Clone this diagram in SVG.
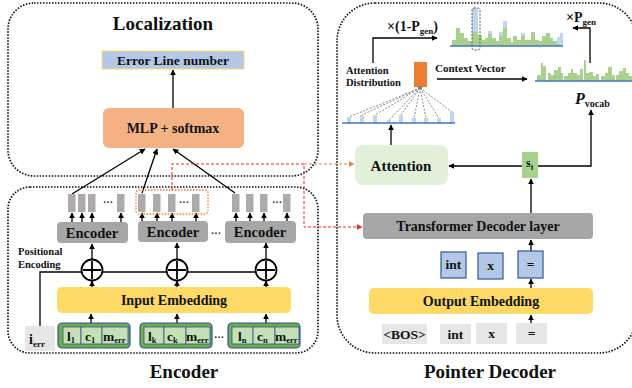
<svg xmlns="http://www.w3.org/2000/svg" width="632" height="388" viewBox="0 0 632 388">
<defs>
<marker id="ah" viewBox="0 0 10 10" refX="9" refY="5" markerWidth="6" markerHeight="6" markerUnits="userSpaceOnUse" orient="auto"><path d="M0,0 L10,5 L0,10 z" fill="#000"/></marker>
<marker id="ahr" viewBox="0 0 10 10" refX="9" refY="5" markerWidth="6" markerHeight="6" markerUnits="userSpaceOnUse" orient="auto"><path d="M0,0 L10,5 L0,10 z" fill="#ff2020"/></marker>
<marker id="aho" viewBox="0 0 10 10" refX="9" refY="5" markerWidth="6" markerHeight="6" markerUnits="userSpaceOnUse" orient="auto"><path d="M0,0 L10,5 L0,10 z" fill="#ed7d31"/></marker>
<style>
text{font-family:"Liberation Serif","Times New Roman",serif;font-weight:bold;fill:#111}
.frame{fill:none;stroke:#111;stroke-width:1.7;stroke-dasharray:1.5 1.5}
.ln{stroke:#000;stroke-width:1.3;fill:none}
.arr{stroke:#000;stroke-width:1.3;fill:none;marker-end:url(#ah)}
.gbox{fill:#a6a6a6}
.ybox{fill:#ffd966}
.bar{fill:#aeaaaa}
.outer{fill:#70ad47;stroke:#2f5597;stroke-width:1.2}
.cell{fill:#c5e0b4;stroke:#2f5597;stroke-width:0.8}
.tok{fill:#b4c7e7;stroke:#2f5597;stroke-width:1.2}
.gtok{fill:#e7e6e6}
.g{fill:#a9d18e}
.b{fill:#bdd7ee}
.base{stroke:#4472c4;stroke-width:1.3}
.dl{stroke:#7f7f7f;stroke-width:0.9;stroke-dasharray:2 1.5}
</style>
</defs>

<!-- frames -->
<g id="localization-frame">
<rect class="frame" x="8" y="3" width="310" height="173" rx="26"/>
<text x="163" y="30" font-size="19" text-anchor="middle">Localization</text>
</g>
<g id="encoder-frame">
<rect class="frame" x="8" y="187" width="310" height="166" rx="22"/>
<text x="184" y="378" font-size="19" text-anchor="middle">Encoder</text>
</g>
<g id="decoder-frame">
<rect class="frame" x="337" y="3" width="300" height="350" rx="38"/>
<text x="490" y="378" font-size="19" text-anchor="middle">Pointer Decoder</text>
</g>

<!-- connectors -->
<g id="connectors">
<line class="arr" x1="173" y1="108" x2="173" y2="70"/>
<line class="arr" x1="72" y1="194" x2="145" y2="149"/>
<line class="arr" x1="142" y1="193" x2="157" y2="149"/>
<line class="arr" x1="235" y1="193" x2="173" y2="149"/>
<!-- encoder bar arrows -->
<g>
<line class="arr" x1="72" y1="222" x2="72" y2="213"/><line class="arr" x1="82" y1="222" x2="82" y2="213"/><line class="arr" x1="92" y1="222" x2="92" y2="213"/><line class="arr" x1="121" y1="222" x2="121" y2="213"/>
<line class="arr" x1="142" y1="221" x2="142" y2="213"/><line class="arr" x1="157" y1="221" x2="157" y2="213"/><line class="arr" x1="172" y1="221" x2="172" y2="213"/><line class="arr" x1="196" y1="221" x2="196" y2="213"/>
<line class="arr" x1="236" y1="221" x2="236" y2="213"/><line class="arr" x1="250" y1="221" x2="250" y2="213"/><line class="arr" x1="264" y1="221" x2="264" y2="213"/><line class="arr" x1="287" y1="221" x2="287" y2="213"/>
</g>
<line class="arr" x1="92" y1="259" x2="92" y2="244"/>
<line class="arr" x1="177" y1="259" x2="177" y2="243"/>
<line class="arr" x1="266" y1="259" x2="266" y2="243"/>
<polyline class="ln" points="40,326 40,272 266,272"/>
<line class="arr" x1="92" y1="287" x2="92" y2="281"/>
<line class="arr" x1="177" y1="287" x2="177" y2="281"/>
<line class="arr" x1="266" y1="287" x2="266" y2="281"/>
<line class="arr" x1="91" y1="323" x2="91" y2="314"/>
<line class="arr" x1="177" y1="323" x2="177" y2="314"/>
<line class="arr" x1="266" y1="323" x2="266" y2="314"/>
<!-- red / orange dashed -->
<polyline points="172,190 172,164 304,164 304,227 362,227" fill="none" stroke="#ff2020" stroke-width="1" stroke-dasharray="3 2" marker-end="url(#ahr)"/>
<line x1="304" y1="164" x2="354" y2="164" stroke="#ed7d31" stroke-width="1" stroke-dasharray="3 2" marker-end="url(#aho)"/>
<!-- decoder -->
<line class="arr" x1="531" y1="323" x2="531" y2="315"/>
<line class="arr" x1="531" y1="288" x2="531" y2="279"/>
<line class="arr" x1="531" y1="251" x2="531" y2="240"/>
<line class="arr" x1="531" y1="213" x2="531" y2="179"/>
<line class="arr" x1="522" y1="166" x2="449" y2="166"/>
<polyline class="arr" points="538,166 591,166 591,110"/>
<line class="arr" x1="391" y1="145" x2="391" y2="125"/>
<polyline class="arr" points="373,63 373,38 437,38"/>
<line class="arr" x1="437" y1="79" x2="527" y2="79"/>
<polyline class="arr" points="590,63 590,28 573,28"/>
</g>

<!-- localization nodes -->
<g id="error-line">
<rect x="102" y="51" width="142" height="18" fill="#b4c7e7" stroke="#ffd966" stroke-width="1"/>
<text x="173" y="65" font-size="13.5" text-anchor="middle">Error Line number</text>
</g>
<g id="mlp">
<rect x="103" y="108" width="141" height="40" rx="6" fill="#f4b183"/>
<text x="173" y="133" font-size="14" text-anchor="middle">MLP + softmax</text>
</g>

<!-- encoder outputs -->
<g id="enc-out-1">
<rect class="bar" x="68" y="194" width="7.5" height="18"/><rect class="bar" x="78" y="194" width="7.5" height="18"/><rect class="bar" x="88" y="194" width="7.5" height="18"/>
<text x="108" y="206" font-size="10" text-anchor="middle">···</text>
<rect class="bar" x="117" y="194" width="7.5" height="18"/>
</g>
<g id="enc-out-2">
<rect x="136" y="190" width="72" height="24" rx="3" fill="none" stroke="#ed7d31" stroke-width="1.3" stroke-dasharray="1.5 1.5"/>
<rect class="bar" x="138" y="194" width="7.5" height="18"/><rect class="bar" x="153" y="194" width="7.5" height="18"/><rect class="bar" x="168" y="194" width="7.5" height="18"/>
<text x="184" y="206" font-size="10" text-anchor="middle">···</text>
<rect class="bar" x="192" y="194" width="7.5" height="18"/>
</g>
<g id="enc-out-3">
<rect class="bar" x="232" y="194" width="7.5" height="18"/><rect class="bar" x="246" y="194" width="7.5" height="18"/><rect class="bar" x="260" y="194" width="7.5" height="18"/>
<text x="277" y="206" font-size="10" text-anchor="middle">···</text>
<rect class="bar" x="283" y="194" width="7.5" height="18"/>
</g>

<g id="encoder-1"><rect class="gbox" x="57" y="222" width="71" height="21" rx="4"/><text x="92" y="238" font-size="14.5" text-anchor="middle">Encoder</text></g>
<g id="encoder-2"><rect class="gbox" x="138" y="221" width="70" height="21" rx="4"/><text x="173" y="237" font-size="14.5" text-anchor="middle">Encoder</text></g>
<text x="216" y="237" font-size="10" text-anchor="middle">···</text>
<g id="encoder-3"><rect class="gbox" x="225" y="221" width="71" height="22" rx="4"/><text x="260" y="237" font-size="14.5" text-anchor="middle">Encoder</text></g>

<g id="pos-enc"><text x="18" y="255" font-size="10.5">Positional</text><text x="18" y="268" font-size="10.5">Encoding</text></g>

<g id="plus-1"><circle cx="92" cy="270" r="10.5" fill="#fff" stroke="#000" stroke-width="1.8"/><path d="M83,270 H101 M92,261 V279" stroke="#000" stroke-width="1.8"/></g>
<g id="plus-2"><circle cx="177" cy="270" r="10.5" fill="#fff" stroke="#000" stroke-width="1.8"/><path d="M168,270 H186 M177,261 V279" stroke="#000" stroke-width="1.8"/></g>
<g id="plus-3"><circle cx="266" cy="270" r="10.5" fill="#fff" stroke="#000" stroke-width="1.8"/><path d="M257,270 H275 M266,261 V279" stroke="#000" stroke-width="1.8"/></g>

<g id="input-embedding"><rect class="ybox" x="57" y="287" width="234" height="26" rx="5"/><text x="174" y="305" font-size="14" text-anchor="middle">Input Embedding</text></g>

<g id="i-err"><rect class="gtok" x="25" y="326" width="30" height="25"/><text x="29" y="344" font-size="14">i<tspan font-size="9" dy="3">err</tspan></text></g>

<g id="tokens-1">
<rect class="outer" x="58" y="323" width="72" height="25" rx="4"/>
<rect class="cell" x="63" y="327" width="18" height="17"/><rect class="cell" x="81" y="327" width="21" height="17"/><rect class="cell" x="102" y="327" width="26" height="17"/>
<text x="67" y="341" font-size="13.5">l<tspan font-size="8.5" dy="2">1</tspan></text>
<text x="85" y="341" font-size="13.5">c<tspan font-size="8.5" dy="2">1</tspan></text>
<text x="103" y="341" font-size="13.5">m<tspan font-size="8.5" dy="2">err</tspan></text>
</g>
<g id="tokens-2">
<rect class="outer" x="140" y="323" width="72" height="25" rx="4"/>
<rect class="cell" x="144" y="327" width="20" height="17"/><rect class="cell" x="164" y="327" width="22" height="17"/><rect class="cell" x="186" y="327" width="24" height="17"/>
<text x="148" y="341" font-size="13.5">l<tspan font-size="8.5" dy="2">k</tspan></text>
<text x="167" y="341" font-size="13.5">c<tspan font-size="8.5" dy="2">k</tspan></text>
<text x="186" y="341" font-size="13.5">m<tspan font-size="8.5" dy="2">err</tspan></text>
</g>
<text x="219" y="341" font-size="10" text-anchor="middle">···</text>
<g id="tokens-3">
<rect class="outer" x="228" y="323" width="72" height="25" rx="4"/>
<rect class="cell" x="232" y="327" width="21" height="17"/><rect class="cell" x="253" y="327" width="22" height="17"/><rect class="cell" x="275" y="327" width="24" height="17"/>
<text x="238" y="341" font-size="13.5">l<tspan font-size="8.5" dy="2">n</tspan></text>
<text x="257" y="341" font-size="13.5">c<tspan font-size="8.5" dy="2">n</tspan></text>
<text x="275" y="341" font-size="13.5">m<tspan font-size="8.5" dy="2">err</tspan></text>
</g>

<!-- decoder nodes -->
<g id="bottom-tokens">
<rect class="gtok" x="382" y="324" width="45" height="20"/><text x="404.5" y="339" font-size="13.5" text-anchor="middle">&lt;BOS&gt;</text>
<rect class="gtok" x="440" y="324" width="31" height="20"/><text x="455.5" y="339" font-size="13.5" text-anchor="middle">int</text>
<rect class="gtok" x="476" y="323" width="31" height="21"/><text x="491.5" y="338" font-size="13.5" text-anchor="middle">x</text>
<rect class="gtok" x="516" y="323" width="31" height="21"/><text x="531.5" y="338" font-size="13.5" text-anchor="middle">=</text>
</g>
<g id="output-embedding"><rect class="ybox" x="369" y="288" width="224" height="26" rx="5"/><text x="481" y="306" font-size="14" text-anchor="middle">Output Embedding</text></g>
<g id="emb-tokens">
<rect class="tok" x="441" y="252" width="25" height="26"/><text x="453.5" y="269" font-size="13.5" text-anchor="middle">int</text>
<rect class="tok" x="478" y="253" width="25" height="26"/><text x="490.5" y="270" font-size="13.5" text-anchor="middle">x</text>
<rect class="tok" x="518" y="251" width="25" height="27"/><text x="530.5" y="269" font-size="13.5" text-anchor="middle">=</text>
</g>
<g id="transformer-decoder"><rect class="gbox" x="363" y="213" width="230" height="26" rx="4"/><text x="478" y="231" font-size="14" text-anchor="middle">Transformer Decoder layer</text></g>
<g id="st"><rect x="522" y="152" width="16" height="26" fill="#a9d18e"/><text x="526" y="167" font-size="12">s<tspan font-size="8" dy="2.5">t</tspan></text></g>
<g id="attention"><rect x="355" y="145" width="93" height="40" rx="8" fill="#e2f0d9"/><text x="401" y="171" font-size="15" text-anchor="middle">Attention</text></g>

<g id="attention-distribution">
<text x="346" y="74" font-size="10.5">Attention</text>
<text x="346" y="86" font-size="10.5">Distribution</text>
<rect x="414" y="62" width="13" height="25" fill="#ed7d31"/>
<ellipse cx="420" cy="87.5" rx="2.5" ry="1.5" fill="#7f7f7f"/>
<line class="dl" x1="420" y1="88" x2="349" y2="117"/>
<line class="dl" x1="420" y1="88" x2="362" y2="115"/>
<line class="dl" x1="420" y1="88" x2="375" y2="115"/>
<line class="dl" x1="420" y1="88" x2="389" y2="120"/>
<line class="dl" x1="420" y1="88" x2="401" y2="115"/>
<line class="dl" x1="420" y1="88" x2="414" y2="118"/>
<line class="dl" x1="420" y1="88" x2="426" y2="118"/>
<line class="dl" x1="420" y1="88" x2="439" y2="118"/>
<line class="dl" x1="420" y1="88" x2="452" y2="112"/>
<rect class="b" x="347" y="117" width="4" height="6"/>
<rect class="b" x="360" y="115" width="4" height="8"/>
<rect class="b" x="373" y="115" width="4" height="8"/>
<rect class="b" x="387" y="120" width="4" height="3"/>
<rect class="b" x="399" y="115" width="4" height="8"/>
<rect class="b" x="412" y="118" width="4" height="5"/>
<rect class="b" x="424" y="118" width="4" height="5"/>
<rect class="b" x="437" y="118" width="4" height="5"/>
<rect class="b" x="450" y="112" width="4" height="11"/>
<line class="base" x1="342" y1="123" x2="455" y2="123"/>
</g>

<g id="gen-label"><text x="387" y="31" font-size="14">×(1-P<tspan font-size="9" dy="3">gen</tspan><tspan dy="-3">)</tspan></text></g>
<g id="context-vector"><text x="435" y="72" font-size="11">Context Vector</text></g>

<g id="final-dist">
<path class="b" d="M472,46 V8 H478 V46 Z M488,46 V31 H492 V46 Z M499,46 V32 H503 V46 Z M503,46 V21 H507 V46 Z M521,46 V33 H525 V46 Z M557,46 V37 H560 V33 H563 V46 Z"/>
<path class="g" d="M452,46 V40 H456 V28 H460 V33 H464 V38 H468 V41 H472 V32 H478 V35 H482 V40 H485 V38 H488 V34 H492 V38 H496 V41 H499 V36 H503 V28 H507 V38 H511 V42 H513 V36 H517 V40 H521 V36 H525 V40 H531 V32 H535 V40 H539 V41 H542 V36 H546 V33 H550 V38 H553 V41 H557 V44 H560 V46 Z"/>
<rect x="472" y="8" width="8" height="42" rx="2" fill="none" stroke="#555" stroke-width="1" stroke-dasharray="2 1.5"/>
<line class="base" x1="450" y1="46" x2="563" y2="46"/>
</g>

<g id="vocab-dist">
<path class="g" d="M537,81 V75 H541 V63 H543 V66 H546 V81 Z M548,81 V73 H551 V75 H554 V70 H558 V67 H561 V73 H563 V81 Z M564,81 V76 H568 V73 H571 V69 H573 V73 H577 V75 H580 V69 H583 V81 Z M584,81 V60 H586 V73 H589 V72 H593 V76 H596 V74 H599 V81 Z M601,81 V76 H605 V73 H608 V67 H612 V75 H615 V81 Z M616,81 V75 H619 V71 H623 V68 H626 V73 H629 V76 H632 V81 Z"/>
<line class="base" x1="535" y1="81" x2="632" y2="81"/>
</g>
<g id="pgen-label"><text x="566" y="22" font-size="14">×P<tspan font-size="9" dy="3">gen</tspan></text></g>
<g id="pvocab-label"><text x="575" y="104" font-size="16" font-style="italic">P<tspan font-size="10" font-style="normal" dy="3">vocab</tspan></text></g>
</svg>
